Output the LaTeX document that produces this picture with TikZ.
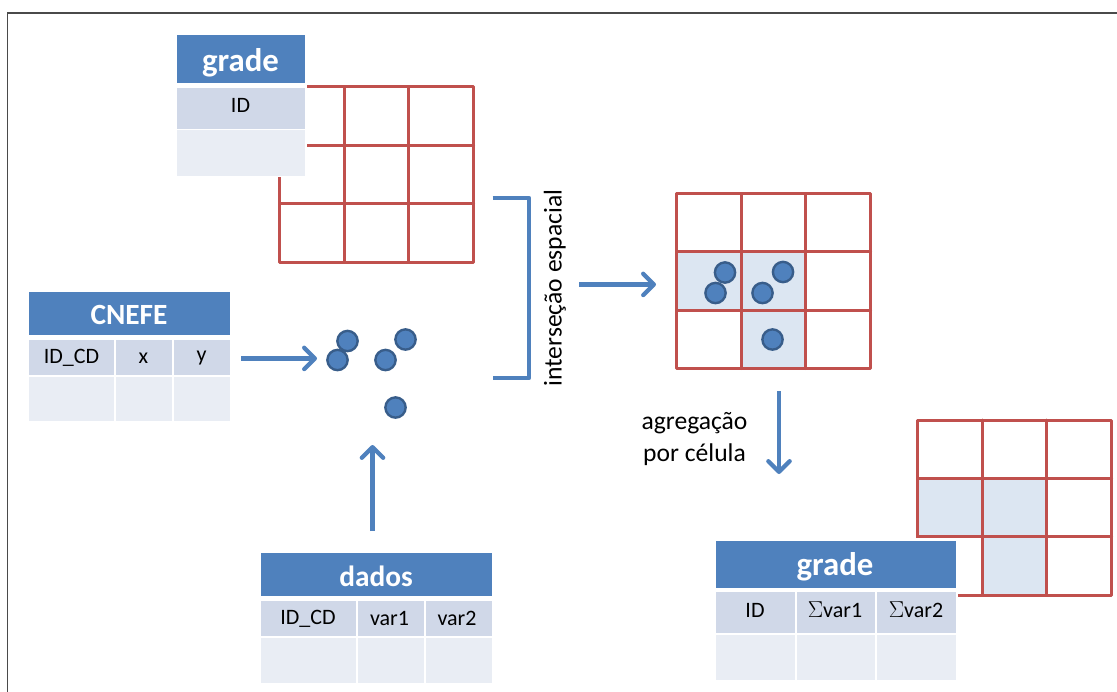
\documentclass[tikz,border=0pt]{standalone}
\usepackage{fontspec}
\setmainfont{Carlito}
\usepackage{amssymb}
\usetikzlibrary{arrows.meta}
\definecolor{hdrblue}{HTML}{4F81BD}
\definecolor{rowdark}{HTML}{D0D8E8}
\definecolor{rowlight}{HTML}{E9EDF4}
\definecolor{gridred}{HTML}{C0504D}
\definecolor{cellfill}{HTML}{DCE6F2}
\definecolor{dotedge}{HTML}{385D8A}
\definecolor{frameline}{HTML}{4A4A4A}
\tikzset{
  x=0.75pt,y=-0.75pt,
  hdrcell/.style={fill=hdrblue,text=white,font=\fontsize{22}{26}\selectfont\bfseries,inner sep=0pt,anchor=center},
  datacell/.style={text=black,font=\fontsize{16.5}{20}\selectfont,inner sep=0pt,anchor=center},
  gridline/.style={draw=gridred,line width=2.25pt,line cap=round,line join=round},
  flow/.style={draw=hdrblue,line width=3.4pt,-{Straight Barb[length=8pt,width=16pt,line width=3.2pt,round]}},
  bracket/.style={draw=hdrblue,line width=3.4pt,line join=round},
  dotmark/.style={circle,draw=dotedge,line width=1.8pt,fill=hdrblue,minimum size=15.2pt,inner sep=0pt},
  note/.style={text=black,font=\fontsize{19.2}{23.5}\selectfont,inner sep=0pt,align=center}
}
\newcommand{\gridbox}[2]{%
  \draw[gridline] (#1,#2) rectangle (#1+194,#2+175);
  \draw[gridline] (#1+64.5,#2) -- (#1+64.5,#2+175) (#1+129,#2) -- (#1+129,#2+175)
        (#1,#2+58) -- (#1+194,#2+58) (#1,#2+116.5) -- (#1+194,#2+116.5);}
\begin{document}
\begin{tikzpicture}
\useasboundingbox (0,0) rectangle (1117,692);
\fill[white] (0,0) rectangle (1117,692);
\draw[frameline,line width=1.1pt] (7.5,692) -- (7.5,13) -- (1117,13);

% top grid
\gridbox{279.5}{87}
% grade table (top)
\fill[white] (172,33) rectangle (306.5,177);
\fill[hdrblue] (176.5,35.5) rectangle (305,83);
\fill[rowdark] (176.5,88) rectangle (305,129);
\fill[rowlight] (176.5,130) rectangle (305,175.5);
\node[hdrcell,font=\fontsize{24.6}{26}\selectfont\bfseries] (gradeA) at (240.5,62.5) {grade};
\node[datacell] (idA) at (240.5,105) {ID};

% CNEFE table
\fill[hdrblue] (28.5,291.5) rectangle (230,334.5);
\fill[rowdark] (28.5,339.5) rectangle (114,375);
\fill[rowdark] (115.5,339.5) rectangle (172,375);
\fill[rowdark] (174,339.5) rectangle (230,375);
\fill[rowlight] (28.5,376.5) rectangle (114,421);
\fill[rowlight] (115.5,376.5) rectangle (172,421);
\fill[rowlight] (174,376.5) rectangle (230,421);
\node[hdrcell] (cnefe) at (129,314.5) {CNEFE};
\node[datacell] (c1) at (71.5,357.5) {ID\_CD};
\node[datacell] (c2) at (143.5,358) {x};
\node[datacell] (c3) at (201.5,358) {y};

% dados table
\fill[hdrblue] (261,553) rectangle (491.5,596);
\fill[rowdark] (261,601) rectangle (356,636);
\fill[rowdark] (358,601) rectangle (424,636);
\fill[rowdark] (425.5,601) rectangle (491.5,636);
\fill[rowlight] (261,638) rectangle (356,683);
\fill[rowlight] (358,638) rectangle (424,683);
\fill[rowlight] (425.5,638) rectangle (491.5,683);
\node[hdrcell] (dados) at (376,576.5) {dados};
\node[datacell] (d1) at (308,618.5) {ID\_CD};
\node[datacell] (d2) at (389.5,618.5) {var1};
\node[datacell] (d3) at (457,618.5) {var2};

% loose dots
\node[dotmark] (p1) at (347.5,341) {};
\node[dotmark] (p2) at (337.5,360) {};
\node[dotmark] (p3) at (405.5,339.5) {};
\node[dotmark] (p4) at (385.5,360) {};
\node[dotmark] (p5) at (395.5,407.5) {};

% arrows and bracket
\coordinate (cnefeout) at (241,358.4);
\coordinate (cnefein) at (317,358.4);
\draw[flow] (cnefeout) -- (cnefein);
\coordinate (dadosout) at (372.5,531);
\coordinate (dadosin) at (372.5,445);
\draw[flow] (dadosout) -- (dadosin);
\coordinate (brA) at (492.5,198);
\coordinate (brB) at (529,198);
\coordinate (brC) at (529,378);
\coordinate (brD) at (492.5,378);
\draw[bracket] (brA) -- (brB) -- (brC) -- (brD);
\node[note,rotate=90] (inter) at (555,288) {interseção espacial};
\coordinate (isecout) at (579,284.4);
\coordinate (isecin) at (656,284.4);
\draw[flow] (isecout) -- (isecin);

% middle grid
\fill[cellfill] (676.5,251.5) rectangle (805,309.5);
\fill[cellfill] (741,309.5) rectangle (805,368);
\gridbox{676.5}{193.5}
\node[dotmark] (q1) at (725,272.5) {};
\node[dotmark] (q2) at (715.5,293) {};
\node[dotmark] (q3) at (783,272) {};
\node[dotmark] (q4) at (762.5,293) {};
\node[dotmark] (q5) at (772.5,339.5) {};

% aggregation
\node[note] (agg) at (694.5,439) {agregação\\por célula};
\coordinate (aggout) at (779,391);
\coordinate (aggin) at (779,474);
\draw[flow] (aggout) -- (aggin);

% bottom-right grid
\fill[cellfill] (917.5,478) rectangle (1046,536);
\fill[cellfill] (982,536) rectangle (1046,594);
\gridbox{917.5}{420}
% grade table (result)
\fill[white] (712,538) rectangle (958,690);
\fill[hdrblue] (716,540.5) rectangle (956,587.5);
\fill[rowdark] (716,592) rectangle (795,633);
\fill[rowdark] (796.5,592) rectangle (875,633);
\fill[rowdark] (877,592) rectangle (956,633);
\fill[rowlight] (716,635) rectangle (795,680);
\fill[rowlight] (796.5,635) rectangle (875,680);
\fill[rowlight] (877,635) rectangle (956,680);
\node[hdrcell,font=\fontsize{24.6}{26}\selectfont\bfseries] (gradeB) at (835,566.5) {grade};
\node[datacell] (g1) at (755,610) {ID};
\node[datacell] (g2) at (835,610) {$\Sigma$var1};
\node[datacell] (g3) at (916,610) {$\Sigma$var2};
\end{tikzpicture}
\end{document}
